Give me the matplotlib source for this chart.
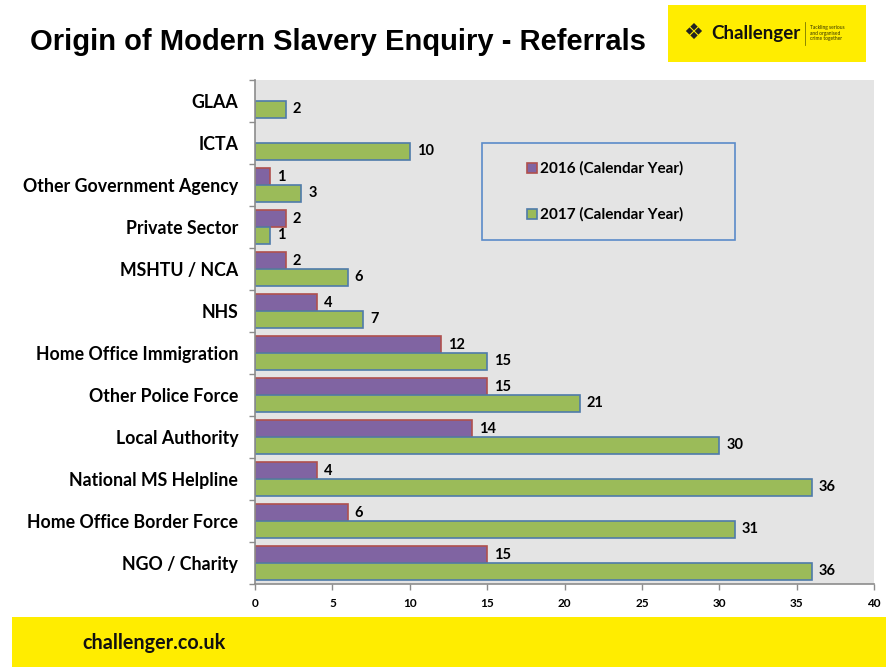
import numpy as np
import matplotlib.pyplot as plt
from matplotlib.patches import Rectangle

# --- DATA ---
categories = ["GLAA", "ICTA", "Other Government Agency", "Private Sector",
              "MSHTU / NCA", "NHS", "Home Office Immigration", "Other Police Force",
              "Local Authority", "National MS Helpline", "Home Office Border Force",
              "NGO / Charity"]
vals_2016 = [None, None, 1, 2, 2, 4, 12, 15, 14, 4, 6, 15]
vals_2017 = [2, 10, 3, 1, 6, 7, 15, 21, 30, 36, 31, 36]
series_names = ["2016 (Calendar Year)", "2017 (Calendar Year)"]
x_ticks = [0, 5, 10, 15, 20, 25, 30, 35, 40]

# --- STYLE ---
PURPLE, PURPLE_EDGE = "#8064A2", "#B0504D"
GREEN, GREEN_EDGE = "#9BBB59", "#4F7BAA"
BG = "#E4E4E4"
YELLOW = "#FFED00"
LABEL_FONT = "Lato"

W, H = 886, 667
fig = plt.figure(figsize=(W / 100, H / 100), dpi=100)

def fx(px):
    return px / W

def fy(py):
    return 1 - py / H

# plot area in pixels: left 255, right 874, top 80, bottom 584
ax = fig.add_axes([fx(255), fy(584), fx(874) - fx(255), (584 - 80) / H])
ax.set_facecolor(BG)

n = len(categories)
y = np.arange(n)
bh = 0.395

v16 = [np.nan if v is None else v for v in vals_2016]
ax.barh(y - bh / 2, v16, height=bh, color=PURPLE, edgecolor=PURPLE_EDGE,
        linewidth=1.2)
ax.barh(y + bh / 2, vals_2017, height=bh, color=GREEN, edgecolor=GREEN_EDGE,
        linewidth=1.2)

for i in range(n):
    if vals_2016[i] is not None:
        ax.annotate(str(vals_2016[i]), (vals_2016[i], y[i] - bh / 2),
                    xytext=(5, 0), textcoords="offset points", va="center",
                    ha="left", fontsize=10.5, fontweight="bold", family=LABEL_FONT)
    ax.annotate(str(vals_2017[i]), (vals_2017[i], y[i] + bh / 2),
                xytext=(5, 0), textcoords="offset points", va="center",
                ha="left", fontsize=10.5, fontweight="bold", family=LABEL_FONT)

ax.set_ylim(n - 0.5, -0.5)
ax.set_xlim(0, 40)
ax.set_xticks(x_ticks)
ax.set_xticklabels([str(t) for t in x_ticks], fontsize=8.5, fontweight="bold",
                   family=LABEL_FONT)
ax.set_yticks(np.arange(n + 1) - 0.5, minor=True)
ax.set_yticks(y)
ax.set_yticklabels(categories, fontsize=12.8, fontweight="bold", family=LABEL_FONT)
ax.tick_params(axis="y", which="major", length=0, pad=12)
ax.tick_params(axis="y", which="minor", length=4, color="#8C8C8C", width=1)
ax.tick_params(axis="x", length=4, color="#8C8C8C", width=1, pad=6)
for s in ["top", "right"]:
    ax.spines[s].set_visible(False)
for s in ["left", "bottom"]:
    ax.spines[s].set_color("#8C8C8C")
    ax.spines[s].set_linewidth(1.2)

# legend box (drawn by hand to match the spacing of the original)
fig.patches.append(Rectangle((fx(482), fy(240)), fx(735) - fx(482), (240 - 143) / H,
                             transform=fig.transFigure, facecolor=BG,
                             edgecolor="#5B8BC9", linewidth=1.2))
for name, face, edge, ypx in [(series_names[0], PURPLE, PURPLE_EDGE, 168),
                              (series_names[1], GREEN, GREEN_EDGE, 214)]:
    fig.patches.append(Rectangle((fx(527), fy(ypx + 5)), 10 / W, 10 / H,
                                 transform=fig.transFigure, facecolor=face,
                                 edgecolor=edge, linewidth=1.2))
    fig.text(fx(540), fy(ypx), name, ha="left", va="center", fontsize=11,
             fontweight="bold", family=LABEL_FONT)

# title
fig.text(fx(30), fy(42), "Origin of Modern Slavery Enquiry - Referrals", ha="left",
         va="center", fontsize=21, fontweight="bold", family="Liberation Sans")

# logo box
fig.patches.append(Rectangle((fx(668), fy(62)), fx(866) - fx(668), (62 - 5) / H,
                             transform=fig.transFigure, facecolor=YELLOW,
                             edgecolor="none"))
fig.text(fx(683), fy(33), "\u2756", ha="left", va="center", fontsize=16,
         family="DejaVu Sans", color="#222222")
fig.text(fx(711), fy(33), "Challenger", ha="left", va="center", fontsize=13.5,
         fontweight="bold", family=LABEL_FONT, color="#111111")
fig.lines.append(plt.Line2D([fx(805), fx(805)], [fy(22), fy(45)],
                            transform=fig.transFigure, color="#777700", lw=0.6))
fig.text(fx(810), fy(33), "Tackling serious\nand organised\ncrime together", ha="left",
         va="center", fontsize=3.5, family=LABEL_FONT, color="#333300",
         linespacing=1.1)

# bottom banner
fig.patches.append(Rectangle((fx(12), 0), 1 - fx(12), (667 - 617) / H,
                             transform=fig.transFigure, facecolor=YELLOW,
                             edgecolor="none"))
fig.text(fx(82), fy(643), "challenger.co.uk", ha="left", va="center", fontsize=14.2,
         fontweight="bold", family=LABEL_FONT, color="#111111")

fig.savefig("out.png", dpi=100)
